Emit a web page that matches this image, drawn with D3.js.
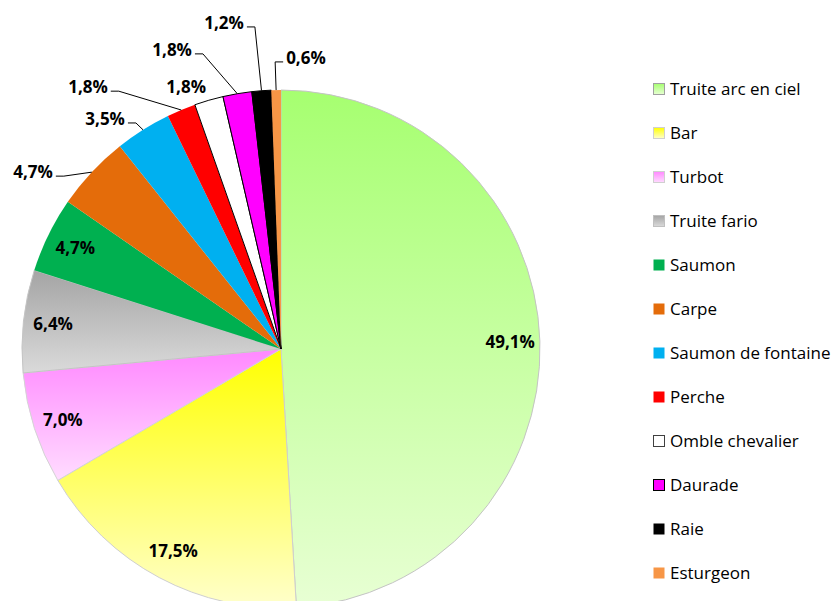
<!DOCTYPE html>
<html>
<head>
<meta charset="utf-8">
<script src="https://cdn.jsdelivr.net/npm/d3@7"></script>
<style>
    body { margin: 0; background: #fff; }
    .pie-label { font-family: "Open Sans", sans-serif; font-weight: 700; font-size: 17px; fill: #000; }
    .legend-label { font-family: "Open Sans", sans-serif; font-size: 17px; fill: #000; }
</style>
</head>
<body>
<svg id="chart" width="835" height="601"></svg>
<script>
// data
const categories = ["Truite arc en ciel", "Bar", "Turbot", "Truite fario", "Saumon", "Carpe",
    "Saumon de fontaine", "Perche", "Omble chevalier", "Daurade", "Raie", "Esturgeon"];
const values = [49.1, 17.5, 7.0, 6.4, 4.7, 4.7, 3.5, 1.8, 1.8, 1.8, 1.2, 0.6];

// fills: [top colour, bottom colour] for gradient slices, a single colour otherwise
const fills = [
    ["#a6ff70", "#e8ffd4"], ["#ffff00", "#ffffcc"], ["#ff88ff", "#ffdcff"], ["#a4a4a4", "#dadada"],
    "#00b050", "#e46c0a", "#00b0f0", "#ff0000", "#ffffff", "#ff00ff", "#000000", "#f79646"
];
const strokes = ["#c4c4c4", "#cfcfcf", "#d4d4d4", "#c4c4c4", "none", "none", "none", "none",
    "#000", "#000", "#000", "none"];
const swatchStrokes = ["#a0a0a0", "#d0d0d0", "#d0d0d0", "#c0c0c0", "none", "none", "none", "none",
    "#404040", "#000", "none", "none"];

// label placement: null = inside the slice, otherwise [angle in degrees, radius factor]
const labelPlacement = [null, null, null, null, null,
    [305.5, 1.176], [322.6, 1.118], [323.6, 1.256], [340.1, 1.076],
    [340.0, 1.229], [350.1, 1.278], [4.9, 1.128]];

const dimension = { width: 835, height: 601 };
const pieCenter = { x: 281, y: 349 };
const radius = 259;

const svg = d3.select("#chart");
const defs = svg.append("defs");

fills.forEach((f, i) => {
    if (Array.isArray(f)) {
        const g = defs.append("linearGradient")
            .attr("id", `grad-${i}`)
            .attr("x1", 0).attr("y1", 0).attr("x2", 0).attr("y2", 1);
        g.append("stop").attr("offset", "0%").attr("stop-color", f[0]);
        g.append("stop").attr("offset", "100%").attr("stop-color", f[1]);
    }
});
const fillOf = i => Array.isArray(fills[i]) ? `url(#grad-${i})` : fills[i];

const data = categories.map((c, i) => ({ name: c, value: values[i], index: i }));

const pie = d3.pie().sort(null).value(d => d.value);
const arc = d3.arc().innerRadius(0).outerRadius(radius);
const arcs = pie(data);

const g = svg.append("g")
    .attr("transform", `translate(${pieCenter.x},${pieCenter.y})`);

g.selectAll("path.slice")
    .data(arcs)
    .enter()
    .append("path")
    .attr("class", "slice")
    .attr("d", arc)
    .attr("fill", d => fillOf(d.data.index))
    .attr("stroke", d => strokes[d.data.index])
    .attr("stroke-width", 1)
    .attr("stroke-linejoin", "round");

const fmt = v => d3.format(".1f")(v).replace(".", ",") + "%";
const polar = (angle, r) => [r * Math.sin(angle), -r * Math.cos(angle)];

const labels = g.selectAll("g.pie-label-g")
    .data(arcs)
    .enter()
    .append("g")
    .attr("class", "pie-label-g")
    .each(function (d) {
        const i = d.data.index;
        const mid = (d.startAngle + d.endAngle) / 2;
        const place = labelPlacement[i];
        const pos = place ? polar(place[0] * Math.PI / 180, radius * place[1]) : polar(mid, radius * 0.885);

        const text = d3.select(this).append("text")
            .attr("class", "pie-label")
            .attr("x", pos[0])
            .attr("y", pos[1])
            .attr("dy", "0.36em")
            .attr("text-anchor", "middle")
            .text(fmt(d.data.value));

        if (!place) return;

        // leader line, Excel style: short horizontal stub then straight to the slice edge
        const bb = text.node().getBBox();
        const target = polar(mid, radius);
        const leftOfTarget = pos[0] < target[0];
        const sx = leftOfTarget ? bb.x + bb.width + 3 : bb.x - 3;
        const sy = pos[1] + 4;
        const ex = leftOfTarget ? sx + 8 : sx - 8;
        if (Math.hypot(target[0] - sx, target[1] - sy) < 13) return;

        d3.select(this).insert("path", "text")
            .attr("d", d3.line()([[sx, sy], [ex, sy], target]))
            .attr("fill", "none")
            .attr("stroke", "#000")
            .attr("stroke-width", 1);
    });

// legend
const legendScale = d3.scalePoint()
    .domain(categories)
    .range([89, 573]);

const legend = svg.append("g").attr("class", "legend");

const rows = legend.selectAll("g.legend-row")
    .data(data)
    .enter()
    .append("g")
    .attr("class", "legend-row")
    .attr("transform", d => `translate(653,${legendScale(d.name)})`);

rows.append("rect")
    .attr("x", 0.5)
    .attr("y", -5.5)
    .attr("width", 11)
    .attr("height", 11)
    .attr("fill", d => fillOf(d.index))
    .attr("stroke", d => swatchStrokes[d.index])
    .attr("stroke-width", 1);

rows.append("text")
    .attr("class", "legend-label")
    .attr("x", 17)
    .attr("y", 0)
    .attr("dy", "0.35em")
    .text(d => d.name);
</script>
</body>
</html>
